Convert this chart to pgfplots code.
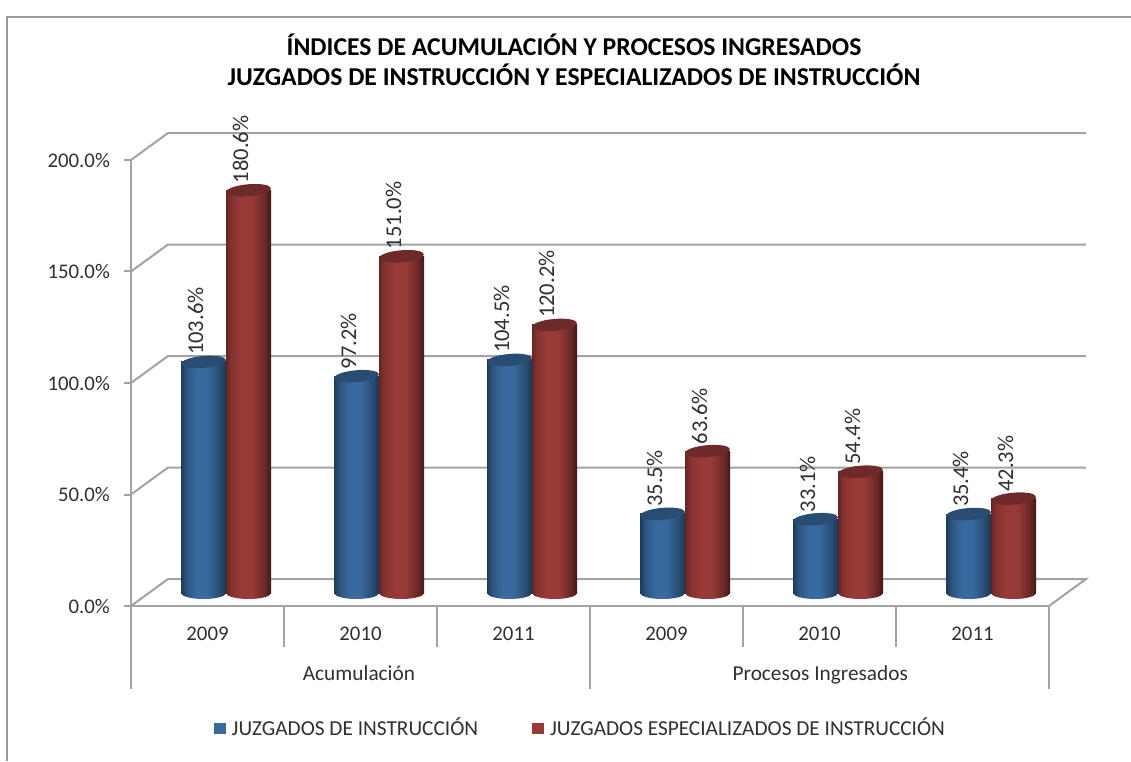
\documentclass[border=0pt]{standalone}
\usepackage{pgfplots}
\pgfplotsset{compat=1.18}
\usepackage{pgfplotstable}
\usepackage{fontspec}
\setmainfont{Carlito}
\definecolor{gridg}{HTML}{A3A3A3}
\definecolor{framg}{HTML}{9A9A9A}
\definecolor{txt}{HTML}{303030}
\definecolor{bluem}{HTML}{386A9F}
\definecolor{redm}{HTML}{983A38}
\pgfdeclarehorizontalshading{cylblue}{100bp}{color(0bp)=(bluem!55!black); color(25bp)=(bluem!55!black); color(31bp)=(bluem!80!black); color(42bp)=(bluem); color(54bp)=(bluem); color(68bp)=(bluem!72!black); color(75bp)=(bluem!50!black); color(100bp)=(bluem!50!black)}
\pgfdeclarehorizontalshading{cylred}{100bp}{color(0bp)=(redm!65!black); color(25bp)=(redm!65!black); color(31bp)=(redm!88!black); color(42bp)=(redm); color(54bp)=(redm); color(68bp)=(redm!70!black); color(75bp)=(redm!42!black); color(100bp)=(redm!42!black)}
\pgfdeclareplotmark{botblue}{\path[draw=none,shading=cylblue,rotate=5] (-22.4pt,6pt) -- (-22.4pt,0pt) arc[start angle=180,end angle=360,x radius=22.4pt,y radius=6pt] -- (22.4pt,6pt) -- cycle;}
\pgfdeclareplotmark{botred}{\path[draw=none,shading=cylred,rotate=5] (-22.4pt,6pt) -- (-22.4pt,0pt) arc[start angle=180,end angle=360,x radius=22.4pt,y radius=6pt] -- (22.4pt,6pt) -- cycle;}
\pgfdeclareplotmark{topblue}{\path[draw=none,fill=bluem!72!black] (0pt,0pt) ellipse [x radius=22.5pt,y radius=6pt,rotate=5];}
\pgfdeclareplotmark{topred}{\path[draw=none,fill=redm!72!black] (0pt,0pt) ellipse [x radius=22.5pt,y radius=6pt,rotate=5];}
\pgfplotstableread{
x y
0.474 103.6
1.474 97.2
2.474 104.5
3.474 35.5
4.474 33.1
5.474 35.4
}\blue
\pgfplotstableread{
x y
0.768 180.6
1.768 151.0
2.768 120.2
3.768 63.6
4.768 54.4
5.768 42.3
}\red
\pgfplotstableread{
x y
0.474 0
1.474 0
2.474 0
3.474 0
4.474 0
5.474 0
}\blueb
\pgfplotstableread{
x y
0.768 0
1.768 0
2.768 0
3.768 0
4.768 0
5.768 0
}\redb
\pgfplotsset{bluebar/.style={ybar,bar shift=0pt,bar width=45pt,draw=none,shading=cylblue,forget plot,nodes near coords=},
  redbar/.style={ybar,bar shift=0pt,bar width=45pt,draw=none,shading=cylred,forget plot,nodes near coords=}}
\begin{document}
\fontsize{20.8pt}{24pt}\selectfont
\begin{tikzpicture}[x=1pt,y=1pt]
\path[use as bounding box,fill=white] (0,0) rectangle (1131,761);
\draw[framg,line width=2.4pt] (7,0) -- (7,744) -- (1131,744);
\node[font=\fontsize{25.7pt}{30.5pt}\selectfont\bfseries,text=black,align=center] at (574,701) {ÍNDICES DE ACUMULACIÓN Y PROCESOS INGRESADOS\\JUZGADOS DE INSTRUCCIÓN Y ESPECIALIZADOS DE INSTRUCCIÓN};
\begin{axis}[
  at={(131pt,155pt)},anchor=south west,scale only axis,width=918pt,height=446pt,
  xmin=0,xmax=6,ymin=0,ymax=200,clip=false,
  axis x line=bottom,axis y line=left,
  axis line style={draw=gridg,line width=2pt,-},
  ytick={0,50,100,150,200},
  xtick={0.5,1.5,2.5,3.5,4.5,5.5},
  xticklabels={2009,2010,2011,2009,2010,2011},
  x tick style={draw=none},
  y tick style={draw=gridg,line width=2pt},
  tick align=outside,major tick length=7pt,
  yticklabel={\pgfmathprintnumber[fixed,fixed zerofill,precision=1,assume math mode=true]{\tick}\%},
  tick label style={text=txt},
  xticklabel style={yshift=-7pt},
  yticklabel style={xshift=-7pt},
]
\addplot[gridg,line width=2pt] coordinates {(0,0) (0.2415,12.1) (6.2415,12.1) (6,0)};
\addplot[gridg,line width=2pt] coordinates {(0,50) (0.2415,62.1) (6.2415,62.1)};
\addplot[gridg,line width=2pt] coordinates {(0,100) (0.2415,112.1) (6.2415,112.1)};
\addplot[gridg,line width=2pt] coordinates {(0,150) (0.2415,162.1) (6.2415,162.1)};
\addplot[gridg,line width=2pt] coordinates {(0,200) (0.2415,212.1) (6.2415,212.1)};
\addplot[gridg,line width=2pt] coordinates {(0,0) (0,-37.2)};
\addplot[gridg,line width=2pt] coordinates {(3,0) (3,-37.2)};
\addplot[gridg,line width=2pt] coordinates {(6,0) (6,-37.2)};
\addplot[gridg,line width=2pt] coordinates {(1,0) (1,-18.4)};
\addplot[gridg,line width=2pt] coordinates {(2,0) (2,-18.4)};
\addplot[gridg,line width=2pt] coordinates {(4,0) (4,-18.4)};
\addplot[gridg,line width=2pt] coordinates {(5,0) (5,-18.4)};
\node[text=txt,anchor=base,font=\fontsize{21.3pt}{24pt}\selectfont] at (axis cs:1.49,-33.6) {Acumulación};
\node[text=txt,anchor=base,font=\fontsize{21.3pt}{24pt}\selectfont] at (axis cs:4.505,-33.6) {Procesos Ingresados};
\end{axis}
\begin{axis}[
  at={(131pt,168pt)},anchor=south west,scale only axis,width=918pt,height=446pt,
  xmin=0,xmax=6,ymin=0,ymax=200,clip=false,
  axis lines=none,
  legend columns=2,
  legend style={draw=none,fill=none,at={(0.4895,-0.303)},anchor=center,text=txt,
    font=\fontsize{21.3pt}{24pt}\selectfont,
    /tikz/every even column/.append style={column sep=52pt},
    /tikz/every odd column/.append style={column sep=4pt}},
  legend image code/.code={\path[#1] (0pt,-5.5pt) rectangle (12pt,5.5pt);},
  nodes near coords={\pgfmathprintnumber[fixed,fixed zerofill,precision=1,assume math mode=true]{\pgfplotspointmeta}\%},
  nodes near coords style={rotate=90,anchor=west,text=txt,font=\fontsize{22.5pt}{24pt}\selectfont,shift={(0pt,8pt)}},
]
\addlegendimage{fill=bluem,draw=none}
\addlegendentry{JUZGADOS DE INSTRUCCIÓN}
\addlegendimage{fill=redm,draw=none}
\addlegendentry{JUZGADOS ESPECIALIZADOS DE INSTRUCCIÓN}
\addplot[only marks,mark=botblue,forget plot,nodes near coords=] table {\blueb};
\addplot[bluebar] coordinates {(0.474,103.6)};
\addplot[bluebar] coordinates {(1.474,97.2)};
\addplot[bluebar] coordinates {(2.474,104.5)};
\addplot[bluebar] coordinates {(3.474,35.5)};
\addplot[bluebar] coordinates {(4.474,33.1)};
\addplot[bluebar] coordinates {(5.474,35.4)};
\addplot[only marks,mark=topblue,forget plot] table {\blue};
\addplot[only marks,mark=botred,forget plot,nodes near coords=] table {\redb};
\addplot[redbar] coordinates {(0.768,180.6)};
\addplot[redbar] coordinates {(1.768,151.0)};
\addplot[redbar] coordinates {(2.768,120.2)};
\addplot[redbar] coordinates {(3.768,63.6)};
\addplot[redbar] coordinates {(4.768,54.4)};
\addplot[redbar] coordinates {(5.768,42.3)};
\addplot[only marks,mark=topred,forget plot] table {\red};
\end{axis}
\end{tikzpicture}
\end{document}
